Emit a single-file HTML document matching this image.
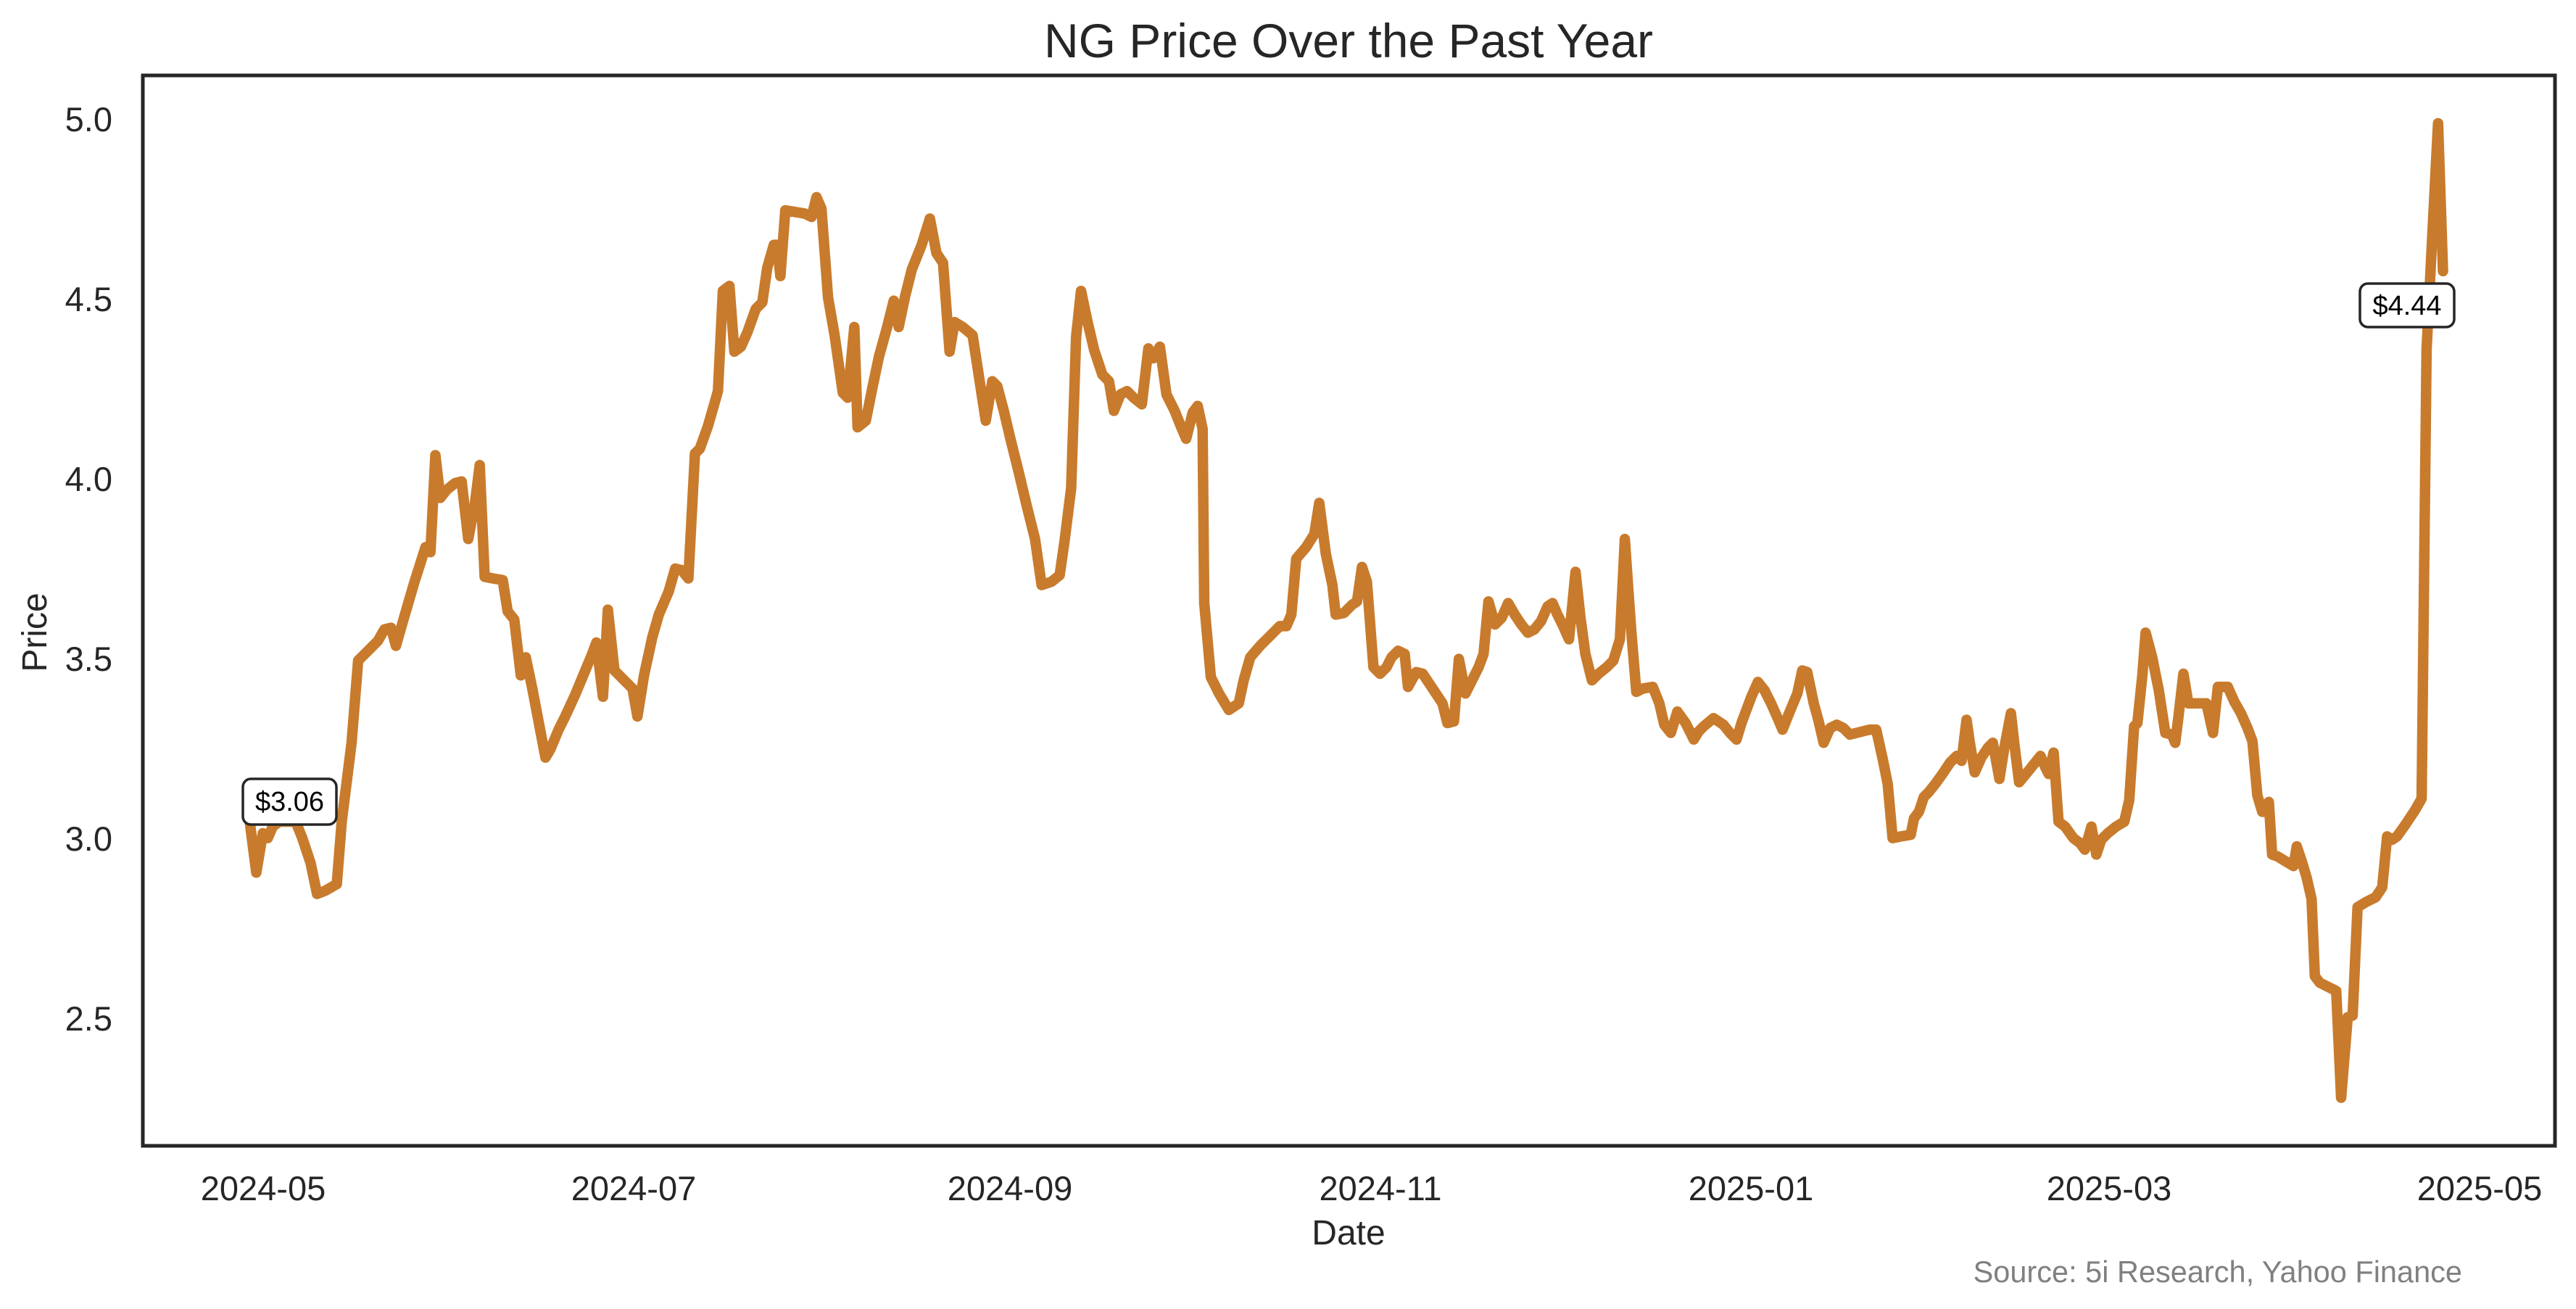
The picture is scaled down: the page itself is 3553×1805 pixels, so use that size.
<!DOCTYPE html>
<html><head><meta charset="utf-8"><style>
html,body{margin:0;padding:0;background:#fff;}
svg{display:block;}
text{font-family:"Liberation Sans",Arial,sans-serif;fill:#262626;}
</style></head><body>
<svg width="3553" height="1805" viewBox="0 0 3553 1805" xmlns="http://www.w3.org/2000/svg">
<rect width="3553" height="1805" fill="#fff"/>
<text x="1860" y="79" font-size="66" text-anchor="middle">NG Price Over the Past Year</text>
<g transform="scale(2.266)">
<polyline fill="none" stroke="#c87b2c" stroke-width="6.4" stroke-linejoin="round" stroke-linecap="round" points="152,500 156,531 160,507 163,510 166,503 170,500 176,500 180,500 184,510 189,525 193,544 198,542 205,538 208,500 214,452 218,402 225,395 230,390 234,383 238,382 241,393 245,379 252,355 259,333 262,336 265,277 268,303 272,298 277,294 281,293 285,328 289,307 292,283 295,351 300,352 306,353 309,372 313,377 317,411 320,400 324,419 328,440 332,461 335,456 340,444 344,436 350,423 355,411 360,399 363,391 367,424 370,371 374,408 379,413 385,419 388,436 392,411 397,388 401,374 407,360 411,346 415,347 419,352 423,276 426,273 431,259 437,238 440,177 444,174 447,214 451,211 455,202 460,188 464,184 467,163 471,149 473,149 475,168 478,128 484,129 490,130 494,132 497,120 500,127 504,181 508,204 513,239 516,242 520,199 522,260 527,256 531,236 535,217 540,199 544,183 547,199 551,180 555,164 561,149 566,133 570,154 574,160 578,214 581,196 586,199 592,204 596,230 600,256 604,232 607,235 611,250 615,267 620,287 625,308 630,328 634,356 640,354 645,350 648,329 652,297 655,205 658,177 662,196 666,213 671,228 675,232 678,250 682,240 686,238 690,242 695,246 699,212 702,218 706,211 710,240 715,250 719,260 722,267 726,251 729,247 732,261 733,367 737,412 742,422 748,432 754,428 757,414 761,400 767,393 773,387 779,381 783,381 786,374 789,340 795,333 800,325 803,306 807,337 811,356 813,374 818,373 823,368 826,366 829,345 832,354 836,406 840,410 844,406 847,400 851,396 855,398 857,418 862,409 866,410 870,416 874,422 878,428 881,440 885,439 888,401 892,422 896,414 900,406 903,398 906,366 910,380 914,376 918,367 922,374 926,380 930,385 934,383 938,378 942,369 945,367 948,374 951,380 955,389 959,348 962,376 965,398 969,414 973,410 978,406 982,402 986,389 989,328 991,357 993,385 996,421 1000,419 1006,418 1010,428 1013,441 1017,446 1021,433 1026,440 1031,450 1034,445 1037,442 1043,437 1049,441 1053,446 1057,450 1060,440 1066,424 1070,415 1074,420 1078,428 1082,437 1085,444 1089,434 1094,422 1097,408 1100,409 1104,428 1107,439 1110,452 1114,443 1118,441 1122,443 1126,447 1130,446 1134,445 1138,444 1142,444 1146,462 1149,477 1152,510 1157,509 1163,508 1165,498 1168,494 1171,485 1174,482 1178,477 1183,470 1187,464 1191,460 1194,463 1197,438 1199,452 1202,470 1206,461 1210,455 1213,452 1217,474 1220,455 1224,434 1226,452 1229,476 1234,470 1238,465 1242,460 1245,467 1247,471 1250,458 1253,500 1257,503 1262,510 1266,513 1269,517 1273,503 1276,520 1279,511 1283,507 1288,503 1293,500 1296,487 1299,442 1301,440 1304,411 1306,385 1310,400 1314,420 1318,446 1322,447 1324,452 1326,436 1329,410 1332,428 1336,428 1340,428 1343,428 1347,446 1350,418 1356,418 1360,427 1364,434 1368,443 1371,451 1374,484 1377,494 1379,494 1381,488 1383,520 1386,521 1391,524 1396,527 1398,515 1401,524 1404,534 1407,547 1409,594 1412,598 1418,601 1422,603 1425,668 1429,619 1432,618 1435,552 1440,549 1446,546 1450,540 1453,509 1456,511 1459,509 1464,502 1470,493 1474,486 1477,213 1480,153 1484,75 1487,165"/>
</g>
<rect x="197" y="104" width="3327" height="1476" fill="none" stroke="#262626" stroke-width="5"/>
<rect x="335" y="1074" width="129" height="63" rx="11" fill="#fff" stroke="#262626" stroke-width="3.5"/>
<text x="399.5" y="1118" font-size="38" text-anchor="middle" style="fill:#000">$3.06</text>
<rect x="3255" y="391" width="130" height="60" rx="11" fill="#fff" stroke="#262626" stroke-width="3.5"/>
<text x="3320" y="434" font-size="38" text-anchor="middle" style="fill:#000">$4.44</text>
<g font-size="47" text-anchor="end">
<text x="155" y="181">5.0</text>
<text x="155" y="429">4.5</text>
<text x="155" y="677">4.0</text>
<text x="155" y="925">3.5</text>
<text x="155" y="1173">3.0</text>
<text x="155" y="1421">2.5</text>
</g>
<g font-size="47" text-anchor="middle">
<text x="363" y="1655">2024-05</text>
<text x="874" y="1655">2024-07</text>
<text x="1393" y="1655">2024-09</text>
<text x="1904" y="1655">2024-11</text>
<text x="2415" y="1655">2025-01</text>
<text x="2909" y="1655">2025-03</text>
<text x="3420" y="1655">2025-05</text>
</g>
<text x="1860" y="1716" font-size="48" text-anchor="middle">Date</text>
<text transform="translate(64,872) rotate(-90)" font-size="48" text-anchor="middle">Price</text>
<text x="3396" y="1768" font-size="41.5" text-anchor="end" style="fill:#808080">Source: 5i Research, Yahoo Finance</text>
</svg>
</body></html>
